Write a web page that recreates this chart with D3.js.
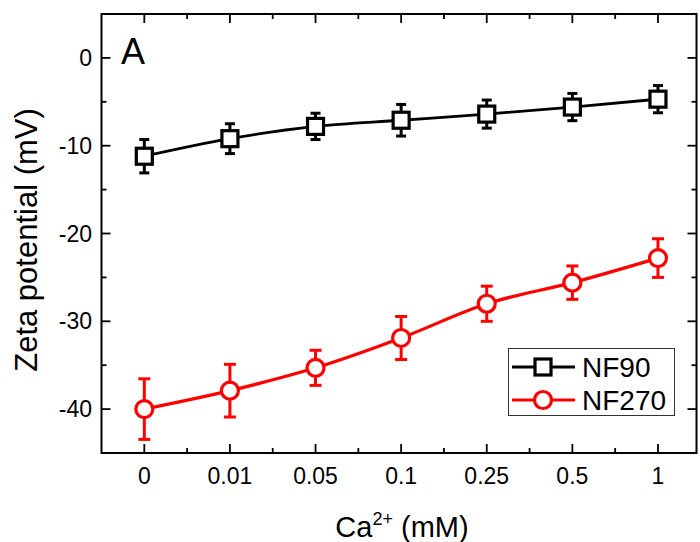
<!DOCTYPE html>
<html>
<head>
<meta charset="UTF-8">
<title>zeta</title>
<style>
  body { margin: 0; background: #fff; }
  text { font-family: "Liberation Sans", Arial, sans-serif; }
</style>
</head>
<body>
<script src="https://cdn.jsdelivr.net/npm/d3@7"></script>
<script>
// Ca2+ concentrations (categorical axis)
const categories = ["0", "0.01", "0.05", "0.1", "0.25", "0.5", "1"];
const nf90 = [-11.2, -9.2, -7.8, -7.1, -6.4, -5.6, -4.7];
const nf90Err = [1.9, 1.7, 1.5, 1.8, 1.6, 1.55, 1.55];
const nf270 = [-40.0, -37.9, -35.3, -31.9, -28.0, -25.6, -22.8];
const nf270Err = [3.45, 3.0, 2.0, 2.45, 2.0, 1.9, 2.2];
const yTicks = [-40, -30, -20, -10, 0];

const width = 700, height = 542;
const pLeft = 101.5, pRight = 696.5, pTop = 14, pBottom = 453;

const svg = d3.select("body").append("svg")
  .attr("width", width)
  .attr("height", height);

const x = d3.scaleLinear().domain([-0.5, 6.45]).range([pLeft, pRight]);
const y = d3.scaleLinear().domain([-45, 5]).range([pBottom, pTop]);

// frame
svg.append("rect")
  .attr("x", pLeft).attr("y", pTop)
  .attr("width", pRight - pLeft).attr("height", pBottom - pTop)
  .attr("fill", "none").attr("stroke", "#000").attr("stroke-width", 2);

const xMajor = categories.map((d, i) => i);
const xMinor = d3.range(0.5, 6.5, 1);
const yMajor = yTicks;
const yMinor = [-35, -25, -15, -5];

// inward ticks on all four sides
const ax = svg.append("g");
function tickLines(vals, len, horiz) {
  vals.forEach(v => {
    if (horiz) {
      ax.append("line").attr("x1", x(v)).attr("x2", x(v)).attr("y1", pBottom).attr("y2", pBottom - len);
      ax.append("line").attr("x1", x(v)).attr("x2", x(v)).attr("y1", pTop).attr("y2", pTop + len);
    } else {
      ax.append("line").attr("y1", y(v)).attr("y2", y(v)).attr("x1", pLeft).attr("x2", pLeft + len);
      ax.append("line").attr("y1", y(v)).attr("y2", y(v)).attr("x1", pRight).attr("x2", pRight - len);
    }
  });
}
tickLines(xMajor, 9, true);
tickLines(xMinor, 5, true);
tickLines(yMajor, 9, false);
tickLines(yMinor, 5, false);
ax.selectAll("line").attr("stroke", "#000").attr("stroke-width", 1.8);

svg.append("g").selectAll("text").data(categories).join("text")
  .attr("x", (d, i) => x(i)).attr("y", 484)
  .attr("text-anchor", "middle").attr("font-size", 23)
  .text(d => d);

svg.append("g").selectAll("text").data(yTicks).join("text")
  .attr("x", 92).attr("y", d => y(d) + 8)
  .attr("text-anchor", "end").attr("font-size", 23)
  .text(d => d);

// axis titles
const xt = svg.append("text")
  .attr("x", 402).attr("y", 537)
  .attr("text-anchor", "middle").attr("font-size", 29);
xt.append("tspan").text("Ca");
xt.append("tspan").attr("font-size", 18).attr("dy", -12).text("2+");
xt.append("tspan").attr("dy", 12).text(" (mM)");

svg.append("text")
  .attr("transform", "translate(37,240) rotate(-90)")
  .attr("text-anchor", "middle").attr("font-size", 31)
  .text("Zeta potential (mV)");

svg.append("text").attr("x", 121).attr("y", 64).attr("font-size", 36).text("A");

const line = d3.line().x((d, i) => x(i)).y(d => y(d)).curve(d3.curveMonotoneX);

function drawMarker(g, shape, cx, cy, color) {
  if (shape === "square") {
    g.append("rect").attr("x", cx - 8).attr("y", cy - 8)
      .attr("width", 16).attr("height", 16)
      .attr("fill", "#fff").attr("stroke", color).attr("stroke-width", 3.2);
  } else {
    g.append("circle").attr("cx", cx).attr("cy", cy).attr("r", 8.5)
      .attr("fill", "#fff").attr("stroke", color).attr("stroke-width", 3.2);
  }
}

function series(vals, errs, color, shape, lw, cap) {
  const g = svg.append("g");
  g.append("path").datum(vals).attr("d", line)
    .attr("fill", "none").attr("stroke", color).attr("stroke-width", lw);
  vals.forEach((v, i) => {
    const cx = x(i);
    g.append("line").attr("x1", cx).attr("x2", cx)
      .attr("y1", y(v + errs[i])).attr("y2", y(v - errs[i]))
      .attr("stroke", color).attr("stroke-width", 3);
    [v + errs[i], v - errs[i]].forEach(e => {
      g.append("line").attr("x1", cx - cap).attr("x2", cx + cap)
        .attr("y1", y(e)).attr("y2", y(e))
        .attr("stroke", color).attr("stroke-width", 3);
    });
    drawMarker(g, shape, cx, y(v), color);
  });
}

series(nf90, nf90Err, "#000", "square", 2.8, 5);
series(nf270, nf270Err, "#ff0000", "circle", 3.2, 6);

// legend
const lg = svg.append("g");
lg.append("rect").attr("x", 508.5).attr("y", 348.5).attr("width", 166).attr("height", 67)
  .attr("fill", "#fff").attr("stroke", "#333").attr("stroke-width", 1);
const legendItems = [
  { name: "NF90", color: "#000", shape: "square", lw: 2.8 },
  { name: "NF270", color: "#ff0000", shape: "circle", lw: 3.2 }
];
legendItems.forEach((d, i) => {
  const ly = 367 + i * 33;
  lg.append("line").attr("x1", 512).attr("x2", 575).attr("y1", ly).attr("y2", ly)
    .attr("stroke", d.color).attr("stroke-width", d.lw);
  drawMarker(lg, d.shape, 543, ly, d.color);
  lg.append("text").attr("x", 582).attr("y", ly + 10).attr("font-size", 28).text(d.name);
});
</script>
</body>
</html>
